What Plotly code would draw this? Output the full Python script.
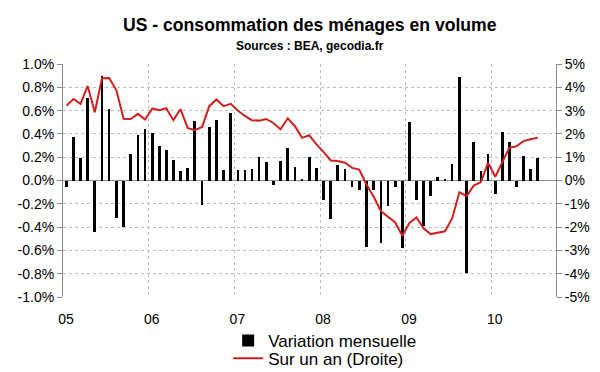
import pandas as pd
import plotly.graph_objects as go

months = pd.date_range("2005-01-01", periods=67, freq="MS")

variation_mensuelle = [
    -0.06, 0.37, 0.19, 0.71, -0.44, 0.90, 0.61, -0.32, -0.40, 0.23, 0.39, 0.44,
    0.41, 0.30, 0.26, 0.18, 0.08, 0.11, 0.51, -0.21, 0.46, 0.52, 0.09, 0.58,
    0.09, 0.09, 0.10, 0.20, 0.16, -0.04, 0.17, 0.28, 0.12, 0.01, 0.20, 0.11,
    -0.17, -0.33, 0.13, 0.10, -0.06, -0.08, -0.57, -0.08, -0.54, -0.22, -0.06, -0.58,
    0.50, -0.17, -0.39, -0.13, 0.03, 0.01, 0.14, 0.89, -0.79, 0.33, 0.08, 0.23,
    -0.12, 0.42, 0.33, -0.06, 0.21, 0.10, 0.19,
]

sur_un_an = [
    3.22, 3.50, 3.29, 4.06, 2.93, 4.39, 4.40, 3.87, 2.65, 2.64, 2.86, 2.62,
    3.09, 3.02, 3.10, 2.59, 3.06, 2.26, 2.16, 2.30, 3.19, 3.48, 3.19, 3.29,
    2.99, 2.77, 2.59, 2.57, 2.64, 2.47, 2.20, 2.67, 2.33, 1.83, 1.94, 1.55,
    1.22, 0.86, 0.84, 0.76, 0.54, 0.47, -0.17, -0.70, -1.31, -1.56, -1.80, -2.37,
    -1.81, -1.59, -2.05, -2.30, -2.25, -2.18, -1.63, -0.50, -0.67, -0.22, -0.07, 0.76,
    0.16, 0.80, 1.40, 1.47, 1.69, 1.77, 1.84,
]

left_ticks = [-1.0, -0.8, -0.6, -0.4, -0.2, 0.0, 0.2, 0.4, 0.6, 0.8, 1.0]
left_labels = [f"{v:.1f}%" for v in left_ticks]
right_ticks = [-5, -4, -3, -2, -1, 0, 1, 2, 3, 4, 5]
right_labels = [f"{v}%" for v in right_ticks]
year_ticks = pd.date_range("2005-01-01", periods=6, freq="YS")
year_labels = ["05", "06", "07", "08", "09", "10"]

FONT = "Liberation Sans, Arial, sans-serif"
GRID = "#bdbdbd"
AXIS = "#8c8c8c"

fig = go.Figure()
fig.add_trace(go.Bar(
    x=months, y=variation_mensuelle, name="Variation mensuelle",
    marker=dict(color="black", line=dict(width=0)),
    xperiod="M1", xperiodalignment="middle",
    width=1.0e9, legend="legend",
))
fig.add_trace(go.Scatter(
    x=months, y=sur_un_an, name="Sur un an (Droite)", yaxis="y2",
    mode="lines", line=dict(color="#d0201e", width=2),
    xperiod="M1", xperiodalignment="middle", legend="legend2",
))

legend_style = dict(
    xanchor="left", yanchor="middle",
    font=dict(size=17, family=FONT), bgcolor="rgba(0,0,0,0)",
    itemwidth=30,
)

fig.update_layout(
    width=600, height=372,
    margin=dict(l=55, r=52, t=56, b=83, autoexpand=False),
    paper_bgcolor="white", plot_bgcolor="white",
    font=dict(family=FONT, size=14, color="black"),
    showlegend=True,
    legend=dict(x=0.335, y=-0.189, **legend_style),
    legend2=dict(x=0.335, y=-0.265, **legend_style),
    xaxis=dict(
        type="date",
        range=["2005-01-01", "2010-10-02"],
        tickvals=year_ticks, ticktext=year_labels,
        showgrid=True, gridcolor=GRID, griddash="dot", gridwidth=1,
        showline=False, zeroline=False, ticks="",
        ticklabelstandoff=12, ticklabelshift=3,
        tickfont=dict(size=14),
    ),
    yaxis=dict(
        range=[-1.0, 1.0], tickvals=left_ticks, ticktext=left_labels,
        showgrid=True, gridcolor=GRID, griddash="dot", gridwidth=1,
        zeroline=True, zerolinecolor=AXIS, zerolinewidth=1,
        showline=True, linecolor=AXIS, linewidth=1,
        ticks="outside", ticklen=5, tickcolor=AXIS,
        tickfont=dict(size=14),
    ),
    yaxis2=dict(
        range=[-5, 5], tickvals=right_ticks, ticktext=right_labels,
        overlaying="y", side="right",
        showgrid=False, zeroline=False,
        showline=True, linecolor=AXIS, linewidth=1,
        ticks="outside", ticklen=5, tickcolor=AXIS,
        tickfont=dict(size=14),
    ),
    bargap=0,
    annotations=[
        dict(text="<b>US - consommation des ménages en volume</b>",
             xref="paper", yref="paper", x=0.5, y=1.0, yshift=39,
             xanchor="center", yanchor="middle", showarrow=False,
             font=dict(size=17.6, family=FONT)),
        dict(text="<b>Sources : BEA, gecodia.fr</b>",
             xref="paper", yref="paper", x=0.5, y=1.0, yshift=18,
             xanchor="center", yanchor="middle", showarrow=False,
             font=dict(size=12, family=FONT)),
    ],
)

fig.write_html("out.html")
